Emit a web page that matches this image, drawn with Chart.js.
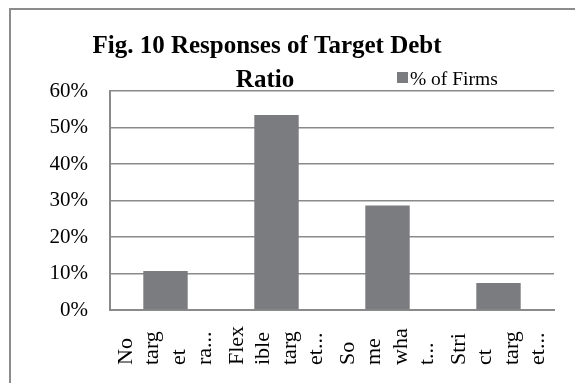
<!DOCTYPE html>
<html>
<head>
<meta charset="utf-8">
<script src="https://cdn.jsdelivr.net/npm/chart.js@4/dist/chart.umd.min.js"></script>
<style>
  html, body { margin: 0; padding: 0; background: #fff; }
  #wrap { width: 575px; height: 383px; position: relative; }
</style>
</head>
<body>
<div id="wrap"><canvas id="chart"></canvas></div>
<script>
const categories = [
  ["No", "targ", "et", "ra..."],
  ["Flex", "ible", "targ", "et..."],
  ["So", "me", "wha", "t..."],
  ["Stri", "ct", "targ", "et..."]
];
const seriesName = "% of Firms";
const firmsPct = [10.7, 53.4, 28.6, 7.4];
const yTicks = [0, 10, 20, 30, 40, 50, 60];
const titleLines = ["Fig. 10 Responses of Target Debt", "Ratio"];

const FONT = "'Liberation Serif', 'Times New Roman', serif";
const GRID = "#8a8a8a";
const BAR = "#7b7c80";

// frame, title, legend and wrapped category labels like the Excel original
const decorPlugin = {
  id: "decor",
  beforeDraw(chart) {
    const ctx = chart.ctx;
    ctx.save();
    ctx.strokeStyle = "#8c8c8c";
    ctx.lineWidth = 2;
    ctx.beginPath();
    ctx.moveTo(10, 383);
    ctx.lineTo(10, 9);
    ctx.lineTo(575, 9);
    ctx.stroke();
    ctx.restore();
  },
  afterDraw(chart) {
    const ctx = chart.ctx;
    ctx.save();
    ctx.fillStyle = "#000";
    ctx.font = "bold 25px " + FONT;
    ctx.textAlign = "center";
    ctx.textBaseline = "alphabetic";
    ctx.fillText(titleLines[0], 267, 53);
    ctx.fillText(titleLines[1], 265, 87);

    // legend
    const ds = chart.data.datasets[0];
    ctx.fillStyle = ds.backgroundColor;
    ctx.fillRect(397, 72, 11, 11);
    ctx.fillStyle = "#000";
    ctx.font = "19.5px " + FONT;
    ctx.textAlign = "left";
    ctx.fillText(ds.label, 410, 85);

    // x labels, rotated, one column per wrapped line
    const xs = chart.scales.x;
    ctx.font = "22px " + FONT;
    ctx.textBaseline = "middle";
    chart.data.labels.forEach((lines, i) => {
      const cx = xs.getPixelForTick(i);
      lines.forEach((t, j) => {
        const x = cx + (j - (lines.length - 1) / 2) * 26.5;
        ctx.save();
        ctx.translate(x, 365);
        ctx.rotate(-Math.PI / 2);
        ctx.fillText(t, 0, 0);
        ctx.restore();
      });
    });
    ctx.restore();
  }
};

new Chart(document.getElementById("chart"), {
  type: "bar",
  data: {
    labels: categories,
    datasets: [{
      label: seriesName,
      data: firmsPct,
      backgroundColor: BAR,
      categoryPercentage: 1,
      barPercentage: 0.4
    }]
  },
  options: {
    responsive: true,
    maintainAspectRatio: false,
    animation: false,
    events: [],
    layout: { padding: { top: 91, right: 21, left: 0, bottom: 0 } },
    plugins: {
      legend: { display: false },
      title: { display: false },
      tooltip: { enabled: false }
    },
    scales: {
      x: {
        grid: { display: false, drawTicks: false },
        border: { display: true, color: GRID, width: 2 },
        ticks: { display: false },
        afterFit(scale) { scale.height = 73; }
      },
      y: {
        min: 0,
        max: 60,
        afterBuildTicks(scale) {
          scale.ticks = yTicks.map(v => ({ value: v }));
        },
        grid: { color: GRID, lineWidth: 1.5, drawTicks: false },
        border: { display: true, color: GRID, width: 2 },
        ticks: {
          padding: 22,
          color: "#000",
          font: { family: FONT, size: 21 },
          callback: v => v + "%"
        },
        afterFit(scale) { scale.width = 110; }
      }
    }
  },
  plugins: [decorPlugin]
});
</script>
</body>
</html>
